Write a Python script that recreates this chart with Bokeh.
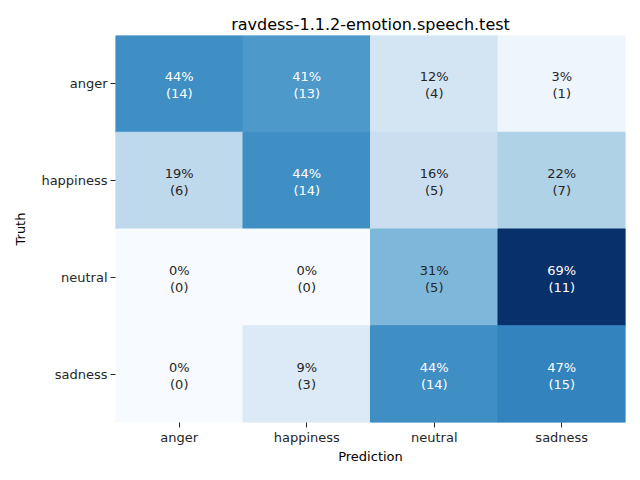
from bokeh.plotting import figure
from bokeh.models import ColumnDataSource, FactorRange
from bokeh.palettes import Blues256
from bokeh.embed import file_html
from bokeh.resources import INLINE

truth_labels = ["anger", "happiness", "neutral", "sadness"]
pred_labels = ["anger", "happiness", "neutral", "sadness"]
counts = [
    [14, 13, 4, 1],
    [6, 14, 5, 7],
    [0, 0, 5, 11],
    [0, 3, 14, 15],
]
title = "ravdess-1.1.2-emotion.speech.test"

FONT = "DejaVu Sans"
TXT = "#262626"

fracs = [[c / sum(row) for c in row] for row in counts]
vmax = max(max(r) for r in fracs)
palette = list(reversed(Blues256))  # light -> dark


def lum(hexcol):
    rgb = [int(hexcol[i:i + 2], 16) / 255 for i in (1, 3, 5)]
    rgb = [c / 12.92 if c <= 0.03928 else ((c + 0.055) / 1.055) ** 2.4 for c in rgb]
    return 0.2126 * rgb[0] + 0.7152 * rgb[1] + 0.0722 * rgb[2]


xs, ys, cols, tcols, pct, cnt = [], [], [], [], [], []
for i, t in enumerate(truth_labels):
    for j, pr in enumerate(pred_labels):
        f = fracs[i][j]
        idx = min(255, int(round(f / vmax * 255)))
        c = palette[idx]
        xs.append(pr)
        ys.append(t)
        cols.append(c)
        tcols.append(TXT if lum(c) > 0.408 else "#ffffff")
        pct.append("{:.0%}".format(f))
        cnt.append("({})".format(counts[i][j]))

src = ColumnDataSource(dict(x=xs, y=ys, c=cols, tc=tcols, pct=pct, cnt=cnt))

p = figure(
    width=640, height=480,
    x_range=FactorRange(factors=pred_labels, range_padding=0),
    y_range=FactorRange(factors=list(reversed(truth_labels)), range_padding=0),
    output_backend="svg", toolbar_location=None,
    min_border_left=115, min_border_right=15, min_border_top=35, min_border_bottom=58,
)
p.title.text = title
p.title.align = "center"
p.title.text_font = FONT
p.title.text_font_size = "16px"
p.title.text_font_style = "normal"
p.title.text_color = "#000000"
p.title.standoff = 4
p.outline_line_color = None
p.xgrid.visible = False
p.ygrid.visible = False
p.background_fill_color = "white"

p.rect(x="x", y="y", width=1, height=1, source=src, fill_color="c", line_color="c", line_width=1)
p.text(x="x", y="y", text="pct", source=src, text_color="tc", text_align="center",
       text_baseline="middle", y_offset=-7, text_font_size="13px", text_font={"value": FONT})
p.text(x="x", y="y", text="cnt", source=src, text_color="tc", text_align="center",
       text_baseline="middle", y_offset=10, text_font_size="13px", text_font={"value": FONT})

for ax in (p.xaxis[0], p.yaxis[0]):
    ax.axis_line_color = None
    ax.major_tick_in = 0
    ax.major_tick_out = 5
    ax.major_tick_line_color = TXT
    ax.minor_tick_line_color = None
    ax.major_label_text_font = FONT
    ax.major_label_text_font_size = "13px"
    ax.major_label_text_color = TXT
    ax.axis_label_text_font = FONT
    ax.axis_label_text_font_size = "13px"
    ax.axis_label_text_font_style = "normal"
    ax.axis_label_text_color = "#000000"
    ax.major_label_standoff = 3

p.xaxis.axis_label = "Prediction"
p.yaxis.axis_label = "Truth"
p.xaxis.axis_label_standoff = 1
p.xaxis.major_label_standoff = 2
p.yaxis.axis_label_standoff = 10

open("out.html", "w").write(file_html(p, INLINE))
